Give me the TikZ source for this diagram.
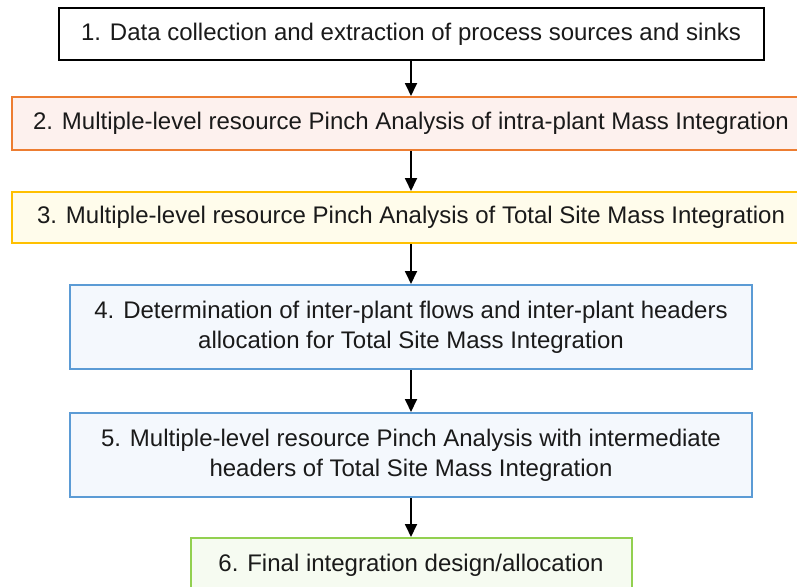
\documentclass[tikz,border=0pt]{standalone}
\usepackage{fontspec}
\setmainfont{Liberation Sans}
\usetikzlibrary{arrows.meta}
\definecolor{txt}{HTML}{1A1A1A}
\definecolor{orgline}{HTML}{ED7D31}
\definecolor{orgfill}{HTML}{FDF1EE}
\definecolor{yelline}{HTML}{FFC000}
\definecolor{yelfill}{HTML}{FFFCEB}
\definecolor{bluline}{HTML}{5B9BD5}
\definecolor{blufill}{HTML}{F4F8FD}
\definecolor{grnline}{HTML}{92D050}
\definecolor{grnfill}{HTML}{F6FBF1}
\begin{document}
\begin{tikzpicture}[x=1pt,y=-1pt,
  stepbox/.style={draw, line width=2pt, inner sep=0pt, align=center, text=txt,
    font=\fontsize{24}{30}\selectfont},
  flow/.style={line width=1.8pt, -{Triangle[width=12pt,length=13pt]}}]
\useasboundingbox (0,0) rectangle (797,586);
\node[stepbox, draw=black, fill=white, minimum width=705pt, minimum height=52pt] (s1) at (411,34)
  {1. Data collection and extraction of process sources and sinks};
\node[stepbox, draw=orgline, fill=orgfill, minimum width=798pt, minimum height=53pt] (s2) at (411,123.5)
  {2. Multiple-level resource Pinch Analysis of intra-plant Mass Integration};
\node[stepbox, draw=yelline, fill=yelfill, minimum width=798pt, minimum height=51pt] (s3) at (411,217.5)
  {3. Multiple-level resource Pinch Analysis of Total Site Mass Integration};
\node[stepbox, draw=bluline, fill=blufill, minimum width=682pt, minimum height=84pt] (s4) at (411,327)
  {4. Determination of inter-plant flows and inter-plant headers\\allocation for Total Site Mass Integration};
\node[stepbox, draw=bluline, fill=blufill, minimum width=682pt, minimum height=84pt] (s5) at (411,455)
  {5. Multiple-level resource Pinch Analysis with intermediate\\headers of Total Site Mass Integration};
\node[stepbox, draw=grnline, fill=grnfill, minimum width=441pt, minimum height=54pt] (s6) at (411,565)
  {6. Final integration design/allocation};
\draw[flow] (s1) -- (s2);
\draw[flow] (s2) -- (s3);
\draw[flow] (s3) -- (s4);
\draw[flow] (s4) -- (s5);
\draw[flow] (s5) -- (s6);
\end{tikzpicture}
\end{document}
